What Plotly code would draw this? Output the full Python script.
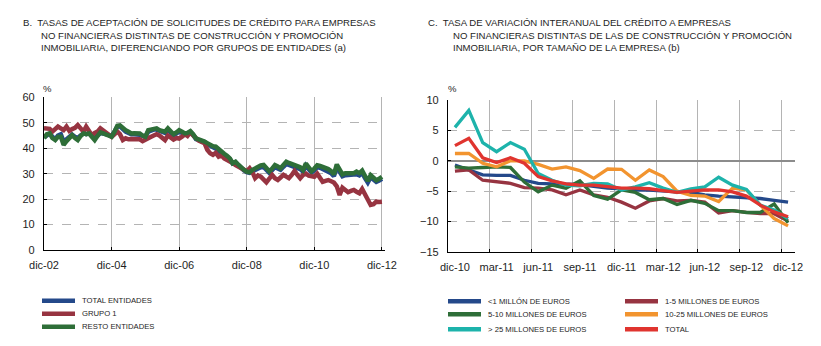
import plotly.graph_objects as go
import pandas as pd

W, H = 821, 346

# ---------------- Panel B data (monthly, dic-02 .. dic-12) ----------------
left_start = "2002-12-01"
left_ticks = ["dic-02", "dic-04", "dic-06", "dic-08", "dic-10", "dic-12"]
left_tick_dates = ["2002-12-01", "2004-12-01", "2006-12-01", "2008-12-01", "2010-12-01", "2012-12-01"]

total_entidades = [
    44.3, 45.0, 45.8, 44.5, 43.5, 45.0, 45.5, 42.5, 43.5, 44.5, 45.3, 44.5,
    44.0, 45.0, 45.8, 45.5, 45.8, 45.0, 44.0, 45.0, 46.0, 45.8, 45.5, 45.0,
    44.8, 46.5, 48.5, 48.6, 47.5, 46.5, 46.0, 45.5, 45.5, 45.5, 45.3, 44.8,
    44.5, 46.5, 47.0, 47.3, 47.3, 46.8, 46.5, 46.0, 47.2, 46.0, 45.2, 45.8,
    46.5, 46.0, 45.5, 45.8, 46.4, 45.2, 43.6, 43.2, 43.0, 42.4, 41.6, 41.0,
    40.5, 40.2, 39.2, 38.2, 37.5, 36.7, 35.7, 34.0, 34.5, 33.3, 32.2, 31.3,
    30.6, 30.3, 31.0, 31.6, 32.2, 32.5, 32.6, 31.3, 30.3, 31.4, 32.6, 32.0,
    31.5, 32.7, 33.8, 33.4, 33.0, 32.6, 32.4, 31.8, 30.8, 33.2, 31.8, 30.4,
    31.3, 32.6, 32.3, 31.8, 31.7, 31.0, 30.2, 29.0, 32.7, 30.7, 29.0, 29.4,
    29.5, 29.6, 29.3, 29.8, 29.3, 30.3, 28.2, 26.5, 28.6, 27.8, 26.8, 27.3,
    28.0,
]
grupo_1 = [
    47.8, 47.5, 47.6, 46.5, 47.5, 48.5, 47.8, 47.1, 48.5, 46.8, 47.5, 48.0,
    49.1, 47.5, 46.5, 48.5, 46.8, 45.1, 46.0, 46.5, 47.8, 47.0, 46.2, 45.5,
    44.5, 45.5, 46.5, 45.5, 43.2, 43.9, 43.5, 43.6, 43.6, 43.8, 43.5, 42.8,
    43.5, 44.2, 44.5, 45.0, 45.5, 45.0, 44.2, 43.2, 45.0, 44.2, 43.4, 44.0,
    43.8, 44.5, 45.5, 44.8, 46.2, 45.0, 43.9, 43.0, 42.5, 42.0, 39.4, 38.0,
    37.4, 38.2, 36.7, 37.2, 36.0, 35.5, 34.7, 34.2, 33.4, 32.8, 32.0, 31.4,
    31.0, 32.1, 30.5, 28.2, 29.3, 28.8, 27.5, 26.6, 28.0, 29.5, 28.2, 27.5,
    28.5, 29.5, 28.8, 28.2, 29.5, 31.1, 29.5, 28.2, 29.5, 30.0, 29.2, 29.0,
    28.8, 30.0, 28.5, 26.8, 27.2, 27.5, 27.0, 26.5, 25.0, 21.6, 24.5, 23.5,
    22.7, 23.2, 23.6, 22.9, 22.3, 24.0, 22.0, 20.3, 17.7, 18.0, 19.0, 18.9,
    19.0,
]
resto_entidades = [
    43.9, 45.5, 45.8, 44.0, 43.2, 44.5, 44.5, 41.3, 42.8, 43.9, 45.1, 44.0,
    43.2, 44.8, 45.8, 45.5, 45.8, 44.5, 43.2, 44.8, 46.2, 45.8, 45.5, 45.0,
    44.5, 46.5, 48.8, 49.0, 47.8, 47.1, 46.5, 45.8, 45.9, 45.8, 45.8, 45.0,
    44.5, 47.1, 47.5, 47.8, 47.8, 47.1, 46.8, 46.5, 47.8, 46.5, 45.5, 46.2,
    47.1, 46.5, 45.8, 46.0, 46.7, 45.5, 43.8, 43.5, 43.2, 42.6, 42.0, 41.3,
    40.8, 40.6, 39.5, 38.6, 37.8, 37.0, 36.0, 34.1, 34.7, 33.5, 32.4, 31.5,
    30.8, 30.5, 31.5, 32.1, 32.8, 33.2, 33.4, 32.0, 30.9, 32.0, 33.4, 32.8,
    32.1, 33.4, 34.7, 34.2, 33.8, 33.4, 33.0, 32.5, 31.4, 34.0, 32.5, 31.0,
    32.0, 33.3, 33.0, 32.6, 32.5, 31.8, 31.0, 29.7, 33.6, 31.5, 29.7, 30.2,
    30.3, 30.4, 30.2, 30.8, 30.2, 31.2, 29.0, 27.1, 29.4, 28.5, 27.4, 28.0,
    28.8,
]

# ---------------- Panel C data (monthly, dic-10 .. dic-12) ----------------
right_months = [
    "dic-10", "ene-11", "feb-11", "mar-11", "abr-11", "may-11", "jun-11", "jul-11",
    "ago-11", "sep-11", "oct-11", "nov-11", "dic-11", "ene-12", "feb-12", "mar-12",
    "abr-12", "may-12", "jun-12", "jul-12", "ago-12", "sep-12", "oct-12", "nov-12", "dic-12",
]
right_ticks = ["dic-10", "mar-11", "jun-11", "sep-11", "dic-11", "mar-12", "jun-12", "sep-12", "dic-12"]

menos_1m = [-0.7, -1.5, -2.3, -2.4, -2.4, -3.2, -3.7, -3.8, -3.9, -3.9, -4.2, -4.5, -4.6,
            -4.8, -4.8, -5.0, -5.1, -5.2, -5.6, -5.8, -5.9, -6.0, -6.2, -6.5, -6.8]
de_1_5m = [-1.7, -1.5, -3.2, -3.5, -3.7, -4.4, -4.5, -4.8, -5.6, -4.8, -5.6, -6.0, -6.8,
           -7.8, -6.6, -6.2, -6.6, -6.5, -6.8, -8.6, -8.2, -8.5, -8.7, -8.7, -9.9]
de_5_10m = [-1.0, -1.2, -1.1, -1.0, -1.1, -3.5, -5.1, -4.0, -4.5, -3.3, -5.7, -6.3, -4.8,
            -5.2, -6.4, -6.2, -7.2, -6.5, -7.0, -8.2, -8.2, -8.5, -8.5, -7.1, -10.2]
de_10_25m = [1.2, 1.2, -0.4, -1.0, 0.0, 0.0, -0.6, -1.35, -1.0, -1.6, -2.9, -1.35, -1.4,
             -3.2, -1.5, -2.6, -5.0, -5.7, -5.8, -6.7, -4.5, -4.8, -7.3, -9.5, -10.7]
mas_25m = [5.5, 8.3, 3.0, 1.5, 3.0, 1.9, -2.1, -3.2, -4.0, -4.1, -3.7, -3.8, -4.8,
           -4.3, -3.6, -4.5, -5.2, -4.6, -4.3, -2.7, -4.0, -4.7, -7.3, -8.1, -9.5]
total_c = [2.5, 3.7, 0.5, -0.3, 0.5, -0.4, -2.6, -3.3, -3.8, -4.0, -4.0, -4.3, -4.5,
           -4.5, -4.6, -4.9, -5.2, -5.0, -4.8, -4.8, -5.1, -5.8, -7.3, -8.4, -9.2]

# ---------------- styling ----------------
C_NAVY = "#24498a"
C_MAROON = "#973441"
C_GREEN = "#2e6e38"
C_ORANGE = "#f2942f"
C_TEAL = "#1db3ab"
C_RED = "#e0342f"
TXT = "#1e1e1e"
GRID = "#b4b4b4"
FONT = "Liberation Sans, Arial, sans-serif"

left_dates = pd.date_range(left_start, periods=len(total_entidades), freq="MS")

fig = go.Figure()
left_series = [
    ("TOTAL ENTIDADES", total_entidades, C_NAVY),
    ("GRUPO 1", grupo_1, C_MAROON),
    ("RESTO ENTIDADES", resto_entidades, C_GREEN),
]
for name, vals, col in left_series:
    fig.add_trace(go.Scatter(x=left_dates, y=vals, name=name, mode="lines",
                             line=dict(color=col, width=4.5), xaxis="x", yaxis="y",
                             showlegend=False))

right_series = [
    ("<1 MILLÓN DE EUROS", menos_1m, C_NAVY),
    ("1-5 MILLONES DE EUROS", de_1_5m, C_MAROON),
    ("5-10 MILLONES DE EUROS", de_5_10m, C_GREEN),
    ("10-25 MILLONES DE EUROS", de_10_25m, C_ORANGE),
    ("> 25 MILLONES DE EUROS", mas_25m, C_TEAL),
    ("TOTAL", total_c, C_RED),
]
for name, vals, col in right_series:
    fig.add_trace(go.Scatter(x=right_months, y=vals, name=name, mode="lines",
                             line=dict(color=col, width=3.3), xaxis="x2", yaxis="y2",
                             showlegend=False))


def px(x):
    return x / W


def py(y):
    return 1 - y / H


tickfont = dict(family=FONT, size=11, color=TXT)
common = dict(showline=True, linecolor="black", linewidth=1.2,
              ticks="inside", ticklen=3, tickcolor="black",
              tickfont=tickfont, automargin=False, showgrid=True,
              gridcolor=GRID, gridwidth=1)
fig.update_layout(
    width=W, height=H, autosize=False,
    margin=dict(l=0, r=0, t=0, b=0, pad=0, autoexpand=False),
    paper_bgcolor="white", plot_bgcolor="white",
    showlegend=False,
    xaxis=dict(domain=[px(44), px(385)], anchor="y", type="date",
               range=[left_dates[0], pd.Timestamp("2013-01-03")],
               tickmode="array", tickvals=left_tick_dates, ticktext=left_ticks,
               griddash="solid", tickangle=0, ticklabelstandoff=5, zeroline=False,
               **common),
    yaxis=dict(domain=[py(250), py(97.3)], anchor="x", range=[0, 60],
               tickmode="array", tickvals=[0, 10, 20, 30, 40, 50, 60],
               griddash="dash", ticklabelstandoff=6, zeroline=False, **common),
    xaxis2=dict(domain=[px(448), px(795)], anchor="y2", type="category",
                categoryorder="array", categoryarray=right_months,
                range=[-0.5, len(right_months) - 0.5],
                tickmode="array", tickvals=right_ticks, ticktext=right_ticks,
                tickson="boundaries", tickangle=0,
                griddash="solid", ticklabelstandoff=5, **common),
    yaxis2=dict(domain=[py(252), py(100)], anchor="x2", range=[-15, 10],
                tickmode="array", tickvals=[-15, -10, -5, 0, 5, 10],
                griddash="dash", ticklabelstandoff=6,
                zeroline=True, zerolinecolor="#8c8c8c", zerolinewidth=1.5, **common),
)

annotations = []
shapes = []


def text(x, y, s, size=10, xanchor="left"):
    annotations.append(dict(x=px(x), y=py(y), xref="paper", yref="paper", text=s,
                            showarrow=False, xanchor=xanchor, yanchor="middle",
                            borderpad=0, font=dict(family=FONT, size=size, color=TXT)))


# titles
for x0, x1, lines in [
    (22, 40, ["B.  TASAS DE ACEPTACIÓN DE SOLICITUDES DE CRÉDITO PARA EMPRESAS",
              "NO FINANCIERAS DISTINTAS DE CONSTRUCCIÓN Y PROMOCIÓN",
              "INMOBILIARIA, DIFERENCIANDO POR GRUPOS DE ENTIDADES (a)"]),
    (427, 452, ["C.  TASA DE VARIACIÓN INTERANUAL DEL CRÉDITO A EMPRESAS",
                "NO FINANCIERAS DISTINTAS DE LAS DE CONSTRUCCIÓN Y PROMOCIÓN",
                "INMOBILIARIA, POR TAMAÑO DE LA EMPRESA (b)"]),
]:
    for k, line in enumerate(lines):
        text(x0 if k == 0 else x1, 22.5 + 12.5 * k, line, size=9.6)

text(47, 88, "%", size=9.5, xanchor="center")
text(452, 88, "%", size=9.5, xanchor="center")

# legends (symbol lines + labels)
left_rows = [300.7, 313.7, 326.7]
for (name, _, col), yy in zip(left_series, left_rows):
    shapes.append(dict(type="line", xref="paper", yref="paper", x0=px(42), x1=px(75),
                       y0=py(yy), y1=py(yy), line=dict(color=col, width=4.5)))
    text(81, yy, name, size=7.7)

right_pos = [(448, 301.3), (625, 301.3), (448, 314.3), (625, 314.3), (448, 329.3), (625, 329.3)]
for (name, _, col), (xx, yy) in zip(right_series, right_pos):
    shapes.append(dict(type="line", xref="paper", yref="paper", x0=px(xx), x1=px(xx + 33),
                       y0=py(yy), y1=py(yy), line=dict(color=col, width=4.5)))
    text(xx + 39, yy, name, size=7.7)

fig.update_layout(annotations=annotations, shapes=shapes)
fig.write_html("out.html")
